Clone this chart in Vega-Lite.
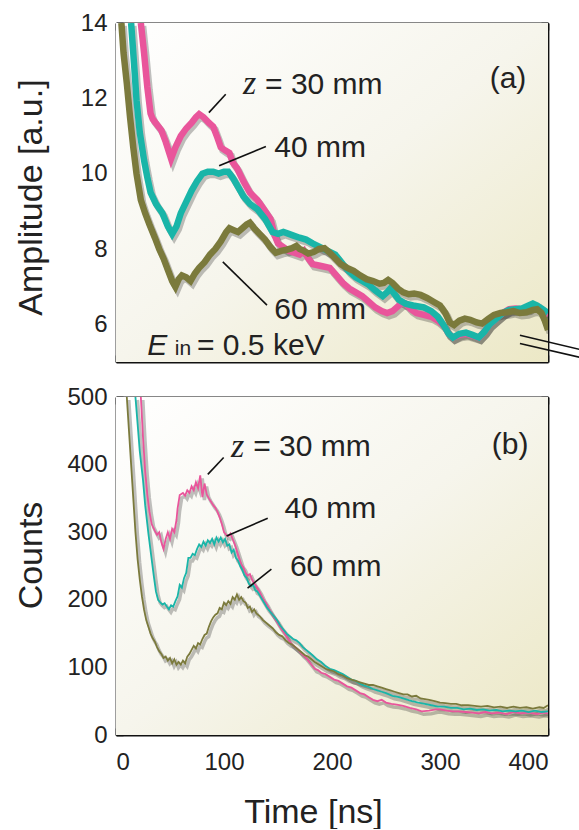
{
 "$schema": "https://vega.github.io/schema/vega-lite/v6.json",
 "background": "white",
 "padding": {"left": 14, "top": 11, "right": 0, "bottom": 0},
 "bounds": "flush",
 "spacing": 35,
 "config": {
  "font": "Liberation Sans",
  "view": {"stroke": null},
  "axis": {"domainColor": "#111", "tickColor": "#111", "labelColor": "#222", "titleColor": "#222", "grid": false, "domainWidth": 1.8, "tickWidth": 1.5, "tickSize": -7, "labelFontSize": 24, "titleFontSize": 34, "titleFontWeight": "normal", "labelFont": "Liberation Sans", "titleFont": "Liberation Sans", "zindex": 1}
 },
 "datasets": {
  "a": [
   {"t":23,"v":14,"z":"30"},{"t":26,"v":13.2,"z":"30"},{"t":29,"v":12.3,"z":"30"},{"t":32,"v":11.6,"z":"30"},{"t":34,"v":11.45,"z":"30"},{"t":38,"v":11.3,"z":"30"},{"t":42,"v":11.15,"z":"30"},{"t":46,"v":10.85,"z":"30"},{"t":51,"v":10.4,"z":"30"},{"t":55,"v":10.7,"z":"30"},{"t":60,"v":11.0,"z":"30"},{"t":65,"v":11.2,"z":"30"},{"t":70,"v":11.35,"z":"30"},{"t":74,"v":11.5,"z":"30"},{"t":77,"v":11.58,"z":"30"},{"t":81,"v":11.5,"z":"30"},{"t":86,"v":11.35,"z":"30"},{"t":90,"v":11.25,"z":"30"},{"t":94,"v":10.95,"z":"30"},{"t":97,"v":10.7,"z":"30"},{"t":101,"v":10.62,"z":"30"},{"t":105,"v":10.55,"z":"30"},{"t":108,"v":10.3,"z":"30"},{"t":112,"v":10.15,"z":"30"},{"t":118,"v":9.8,"z":"30"},{"t":124,"v":9.5,"z":"30"},{"t":131,"v":9.3,"z":"30"},{"t":137,"v":9.05,"z":"30"},{"t":143,"v":8.8,"z":"30"},{"t":147,"v":8.35,"z":"30"},{"t":150,"v":8.15,"z":"30"},{"t":155,"v":8.05,"z":"30"},{"t":160,"v":7.95,"z":"30"},{"t":165,"v":7.9,"z":"30"},{"t":170,"v":7.85,"z":"30"},{"t":174,"v":7.95,"z":"30"},{"t":178,"v":7.75,"z":"30"},{"t":182,"v":7.6,"z":"30"},{"t":190,"v":7.55,"z":"30"},{"t":198,"v":7.5,"z":"30"},{"t":204,"v":7.3,"z":"30"},{"t":210,"v":7.1,"z":"30"},{"t":216,"v":6.95,"z":"30"},{"t":222,"v":6.85,"z":"30"},{"t":228,"v":6.75,"z":"30"},{"t":234,"v":6.6,"z":"30"},{"t":240,"v":6.45,"z":"30"},{"t":246,"v":6.35,"z":"30"},{"t":251,"v":6.3,"z":"30"},{"t":256,"v":6.35,"z":"30"},{"t":260,"v":6.45,"z":"30"},{"t":264,"v":6.55,"z":"30"},{"t":268,"v":6.55,"z":"30"},{"t":273,"v":6.4,"z":"30"},{"t":278,"v":6.3,"z":"30"},{"t":285,"v":6.25,"z":"30"},{"t":292,"v":6.2,"z":"30"},{"t":298,"v":6.1,"z":"30"},{"t":304,"v":5.95,"z":"30"},{"t":308,"v":5.75,"z":"30"},{"t":312,"v":5.65,"z":"30"},{"t":318,"v":5.72,"z":"30"},{"t":324,"v":5.75,"z":"30"},{"t":330,"v":5.7,"z":"30"},{"t":336,"v":5.65,"z":"30"},{"t":341,"v":5.8,"z":"30"},{"t":346,"v":6.0,"z":"30"},{"t":352,"v":6.15,"z":"30"},{"t":358,"v":6.3,"z":"30"},{"t":364,"v":6.4,"z":"30"},{"t":370,"v":6.42,"z":"30"},{"t":376,"v":6.4,"z":"30"},{"t":382,"v":6.42,"z":"30"},{"t":386,"v":6.5,"z":"30"},{"t":392,"v":6.45,"z":"30"},{"t":396,"v":6.3,"z":"30"},{"t":400,"v":6.25,"z":"30"},
   {"t":14,"v":14,"z":"40"},{"t":17,"v":12.8,"z":"40"},{"t":19,"v":11.95,"z":"40"},{"t":22,"v":11.1,"z":"40"},{"t":26,"v":10.35,"z":"40"},{"t":29,"v":9.9,"z":"40"},{"t":32,"v":9.5,"z":"40"},{"t":37,"v":9.2,"z":"40"},{"t":43,"v":8.95,"z":"40"},{"t":48,"v":8.6,"z":"40"},{"t":52,"v":8.4,"z":"40"},{"t":56,"v":8.6,"z":"40"},{"t":60,"v":8.95,"z":"40"},{"t":65,"v":9.25,"z":"40"},{"t":70,"v":9.55,"z":"40"},{"t":75,"v":9.8,"z":"40"},{"t":80,"v":10.0,"z":"40"},{"t":85,"v":10.05,"z":"40"},{"t":90,"v":10.05,"z":"40"},{"t":95,"v":10.0,"z":"40"},{"t":100,"v":10.05,"z":"40"},{"t":104,"v":10.05,"z":"40"},{"t":108,"v":9.9,"z":"40"},{"t":111,"v":9.75,"z":"40"},{"t":115,"v":9.55,"z":"40"},{"t":118,"v":9.4,"z":"40"},{"t":124,"v":9.2,"z":"40"},{"t":131,"v":9.05,"z":"40"},{"t":138,"v":8.8,"z":"40"},{"t":145,"v":8.45,"z":"40"},{"t":150,"v":8.4,"z":"40"},{"t":155,"v":8.45,"z":"40"},{"t":160,"v":8.4,"z":"40"},{"t":165,"v":8.35,"z":"40"},{"t":170,"v":8.3,"z":"40"},{"t":176,"v":8.25,"z":"40"},{"t":182,"v":8.15,"z":"40"},{"t":189,"v":8.05,"z":"40"},{"t":196,"v":7.95,"z":"40"},{"t":203,"v":7.85,"z":"40"},{"t":210,"v":7.6,"z":"40"},{"t":216,"v":7.4,"z":"40"},{"t":222,"v":7.25,"z":"40"},{"t":228,"v":7.15,"z":"40"},{"t":234,"v":7.05,"z":"40"},{"t":240,"v":6.9,"z":"40"},{"t":247,"v":6.75,"z":"40"},{"t":251,"v":6.85,"z":"40"},{"t":254,"v":6.95,"z":"40"},{"t":258,"v":6.8,"z":"40"},{"t":262,"v":6.65,"z":"40"},{"t":268,"v":6.55,"z":"40"},{"t":275,"v":6.5,"z":"40"},{"t":285,"v":6.45,"z":"40"},{"t":292,"v":6.35,"z":"40"},{"t":298,"v":6.2,"z":"40"},{"t":304,"v":5.95,"z":"40"},{"t":308,"v":5.75,"z":"40"},{"t":312,"v":5.65,"z":"40"},{"t":318,"v":5.75,"z":"40"},{"t":324,"v":5.78,"z":"40"},{"t":330,"v":5.72,"z":"40"},{"t":336,"v":5.65,"z":"40"},{"t":341,"v":5.8,"z":"40"},{"t":346,"v":6.0,"z":"40"},{"t":352,"v":6.15,"z":"40"},{"t":358,"v":6.3,"z":"40"},{"t":364,"v":6.38,"z":"40"},{"t":370,"v":6.4,"z":"40"},{"t":376,"v":6.42,"z":"40"},{"t":382,"v":6.5,"z":"40"},{"t":386,"v":6.55,"z":"40"},{"t":390,"v":6.5,"z":"40"},{"t":395,"v":6.4,"z":"40"},{"t":400,"v":6.3,"z":"40"},
   {"t":5,"v":14,"z":"60"},{"t":7,"v":13.2,"z":"60"},{"t":10,"v":12.4,"z":"60"},{"t":13,"v":11.5,"z":"60"},{"t":16,"v":10.7,"z":"60"},{"t":19,"v":10.0,"z":"60"},{"t":23,"v":9.3,"z":"60"},{"t":27,"v":8.95,"z":"60"},{"t":31,"v":8.65,"z":"60"},{"t":36,"v":8.3,"z":"60"},{"t":40,"v":8.0,"z":"60"},{"t":44,"v":7.75,"z":"60"},{"t":48,"v":7.45,"z":"60"},{"t":52,"v":7.15,"z":"60"},{"t":55,"v":7.0,"z":"60"},{"t":58,"v":7.2,"z":"60"},{"t":61,"v":7.3,"z":"60"},{"t":65,"v":7.25,"z":"60"},{"t":69,"v":7.15,"z":"60"},{"t":73,"v":7.35,"z":"60"},{"t":77,"v":7.5,"z":"60"},{"t":82,"v":7.65,"z":"60"},{"t":87,"v":7.85,"z":"60"},{"t":92,"v":8.0,"z":"60"},{"t":97,"v":8.2,"z":"60"},{"t":102,"v":8.45,"z":"60"},{"t":105,"v":8.55,"z":"60"},{"t":109,"v":8.5,"z":"60"},{"t":113,"v":8.45,"z":"60"},{"t":117,"v":8.55,"z":"60"},{"t":121,"v":8.65,"z":"60"},{"t":124,"v":8.7,"z":"60"},{"t":128,"v":8.55,"z":"60"},{"t":133,"v":8.4,"z":"60"},{"t":138,"v":8.25,"z":"60"},{"t":143,"v":8.05,"z":"60"},{"t":148,"v":7.9,"z":"60"},{"t":153,"v":7.95,"z":"60"},{"t":158,"v":7.98,"z":"60"},{"t":163,"v":8.02,"z":"60"},{"t":167,"v":8.08,"z":"60"},{"t":170,"v":8.0,"z":"60"},{"t":174,"v":7.95,"z":"60"},{"t":178,"v":7.88,"z":"60"},{"t":183,"v":7.92,"z":"60"},{"t":188,"v":8.0,"z":"60"},{"t":193,"v":8.02,"z":"60"},{"t":198,"v":7.9,"z":"60"},{"t":203,"v":7.75,"z":"60"},{"t":208,"v":7.6,"z":"60"},{"t":214,"v":7.5,"z":"60"},{"t":220,"v":7.42,"z":"60"},{"t":226,"v":7.3,"z":"60"},{"t":232,"v":7.2,"z":"60"},{"t":238,"v":7.15,"z":"60"},{"t":244,"v":7.08,"z":"60"},{"t":248,"v":7.1,"z":"60"},{"t":252,"v":7.18,"z":"60"},{"t":256,"v":7.1,"z":"60"},{"t":261,"v":6.95,"z":"60"},{"t":266,"v":6.85,"z":"60"},{"t":271,"v":6.8,"z":"60"},{"t":276,"v":6.82,"z":"60"},{"t":282,"v":6.78,"z":"60"},{"t":288,"v":6.7,"z":"60"},{"t":294,"v":6.6,"z":"60"},{"t":300,"v":6.5,"z":"60"},{"t":305,"v":6.3,"z":"60"},{"t":309,"v":6.05,"z":"60"},{"t":313,"v":5.98,"z":"60"},{"t":318,"v":6.1,"z":"60"},{"t":323,"v":6.15,"z":"60"},{"t":328,"v":6.12,"z":"60"},{"t":334,"v":6.05,"z":"60"},{"t":339,"v":6.02,"z":"60"},{"t":345,"v":6.15,"z":"60"},{"t":350,"v":6.25,"z":"60"},{"t":356,"v":6.3,"z":"60"},{"t":362,"v":6.32,"z":"60"},{"t":368,"v":6.35,"z":"60"},{"t":374,"v":6.3,"z":"60"},{"t":380,"v":6.32,"z":"60"},{"t":386,"v":6.38,"z":"60"},{"t":390,"v":6.4,"z":"60"},{"t":394,"v":6.3,"z":"60"},{"t":397,"v":6.1,"z":"60"},{"t":400,"v":5.85,"z":"60"}
  ],
  "b": [
   {"t":23,"v":500,"z":"30"},{"t":25,"v":440,"z":"30"},{"t":27,"v":390,"z":"30"},{"t":29,"v":355,"z":"30"},{"t":31,"v":330,"z":"30"},{"t":33,"v":312,"z":"30"},{"t":36,"v":302,"z":"30"},{"t":38,"v":296,"z":"30"},{"t":40,"v":300,"z":"30"},{"t":42,"v":285,"z":"30"},{"t":44,"v":275,"z":"30"},{"t":46,"v":290,"z":"30"},{"t":48,"v":300,"z":"30"},{"t":50,"v":290,"z":"30"},{"t":52,"v":305,"z":"30"},{"t":54,"v":300,"z":"30"},{"t":56,"v":318,"z":"30"},{"t":57,"v":335,"z":"30"},{"t":59,"v":355,"z":"30"},{"t":62,"v":358,"z":"30"},{"t":64,"v":354,"z":"30"},{"t":66,"v":362,"z":"30"},{"t":68,"v":358,"z":"30"},{"t":70,"v":368,"z":"30"},{"t":72,"v":362,"z":"30"},{"t":74,"v":374,"z":"30"},{"t":76,"v":365,"z":"30"},{"t":78,"v":384,"z":"30"},{"t":80,"v":352,"z":"30"},{"t":82,"v":372,"z":"30"},{"t":84,"v":356,"z":"30"},{"t":86,"v":350,"z":"30"},{"t":88,"v":345,"z":"30"},{"t":90,"v":340,"z":"30"},{"t":92,"v":336,"z":"30"},{"t":94,"v":330,"z":"30"},{"t":96,"v":322,"z":"30"},{"t":98,"v":312,"z":"30"},{"t":100,"v":300,"z":"30"},{"t":102,"v":296,"z":"30"},{"t":104,"v":294,"z":"30"},{"t":106,"v":298,"z":"30"},{"t":108,"v":290,"z":"30"},{"t":110,"v":282,"z":"30"},{"t":112,"v":272,"z":"30"},{"t":114,"v":262,"z":"30"},{"t":116,"v":252,"z":"30"},{"t":118,"v":248,"z":"30"},{"t":120,"v":240,"z":"30"},{"t":122,"v":236,"z":"30"},{"t":124,"v":238,"z":"30"},{"t":126,"v":230,"z":"30"},{"t":128,"v":224,"z":"30"},{"t":130,"v":220,"z":"30"},{"t":133,"v":212,"z":"30"},{"t":136,"v":202,"z":"30"},{"t":139,"v":195,"z":"30"},{"t":142,"v":186,"z":"30"},{"t":145,"v":178,"z":"30"},{"t":148,"v":170,"z":"30"},{"t":151,"v":162,"z":"30"},{"t":154,"v":155,"z":"30"},{"t":157,"v":148,"z":"30"},{"t":160,"v":140,"z":"30"},{"t":163,"v":134,"z":"30"},{"t":166,"v":130,"z":"30"},{"t":169,"v":126,"z":"30"},{"t":172,"v":120,"z":"30"},{"t":175,"v":116,"z":"30"},{"t":178,"v":110,"z":"30"},{"t":181,"v":104,"z":"30"},{"t":184,"v":98,"z":"30"},{"t":187,"v":96,"z":"30"},{"t":190,"v":92,"z":"30"},{"t":194,"v":90,"z":"30"},{"t":198,"v":86,"z":"30"},{"t":202,"v":82,"z":"30"},{"t":206,"v":80,"z":"30"},{"t":210,"v":76,"z":"30"},{"t":214,"v":72,"z":"30"},{"t":218,"v":70,"z":"30"},{"t":222,"v":66,"z":"30"},{"t":226,"v":62,"z":"30"},{"t":230,"v":60,"z":"30"},{"t":234,"v":56,"z":"30"},{"t":238,"v":52,"z":"30"},{"t":242,"v":50,"z":"30"},{"t":246,"v":52,"z":"30"},{"t":250,"v":48,"z":"30"},{"t":255,"v":46,"z":"30"},{"t":260,"v":45,"z":"30"},{"t":266,"v":43,"z":"30"},{"t":272,"v":40,"z":"30"},{"t":278,"v":38,"z":"30"},{"t":283,"v":35,"z":"30"},{"t":290,"v":36,"z":"30"},{"t":296,"v":38,"z":"30"},{"t":300,"v":38,"z":"30"},{"t":306,"v":36,"z":"30"},{"t":312,"v":35,"z":"30"},{"t":317,"v":35,"z":"30"},{"t":324,"v":34,"z":"30"},{"t":330,"v":33,"z":"30"},{"t":336,"v":32,"z":"30"},{"t":342,"v":34,"z":"30"},{"t":348,"v":32,"z":"30"},{"t":355,"v":33,"z":"30"},{"t":362,"v":31,"z":"30"},{"t":368,"v":34,"z":"30"},{"t":375,"v":32,"z":"30"},{"t":382,"v":33,"z":"30"},{"t":390,"v":31,"z":"30"},{"t":395,"v":33,"z":"30"},{"t":400,"v":32,"z":"30"},
   {"t":18,"v":500,"z":"40"},{"t":20,"v":460,"z":"40"},{"t":22,"v":420,"z":"40"},{"t":25,"v":377,"z":"40"},{"t":27,"v":340,"z":"40"},{"t":30,"v":298,"z":"40"},{"t":33,"v":260,"z":"40"},{"t":35,"v":235,"z":"40"},{"t":37,"v":212,"z":"40"},{"t":39,"v":200,"z":"40"},{"t":41,"v":196,"z":"40"},{"t":43,"v":193,"z":"40"},{"t":45,"v":195,"z":"40"},{"t":47,"v":190,"z":"40"},{"t":49,"v":186,"z":"40"},{"t":51,"v":192,"z":"40"},{"t":53,"v":190,"z":"40"},{"t":55,"v":198,"z":"40"},{"t":57,"v":205,"z":"40"},{"t":59,"v":222,"z":"40"},{"t":61,"v":218,"z":"40"},{"t":63,"v":232,"z":"40"},{"t":65,"v":240,"z":"40"},{"t":67,"v":262,"z":"40"},{"t":69,"v":262,"z":"40"},{"t":71,"v":268,"z":"40"},{"t":73,"v":266,"z":"40"},{"t":75,"v":275,"z":"40"},{"t":77,"v":282,"z":"40"},{"t":79,"v":278,"z":"40"},{"t":81,"v":286,"z":"40"},{"t":83,"v":280,"z":"40"},{"t":85,"v":288,"z":"40"},{"t":87,"v":284,"z":"40"},{"t":89,"v":290,"z":"40"},{"t":91,"v":282,"z":"40"},{"t":93,"v":292,"z":"40"},{"t":95,"v":286,"z":"40"},{"t":97,"v":292,"z":"40"},{"t":99,"v":285,"z":"40"},{"t":101,"v":290,"z":"40"},{"t":103,"v":280,"z":"40"},{"t":105,"v":282,"z":"40"},{"t":107,"v":270,"z":"40"},{"t":109,"v":274,"z":"40"},{"t":111,"v":262,"z":"40"},{"t":113,"v":258,"z":"40"},{"t":115,"v":250,"z":"40"},{"t":117,"v":244,"z":"40"},{"t":119,"v":236,"z":"40"},{"t":121,"v":232,"z":"40"},{"t":123,"v":224,"z":"40"},{"t":125,"v":220,"z":"40"},{"t":127,"v":222,"z":"40"},{"t":129,"v":214,"z":"40"},{"t":131,"v":212,"z":"40"},{"t":134,"v":204,"z":"40"},{"t":137,"v":196,"z":"40"},{"t":140,"v":188,"z":"40"},{"t":143,"v":182,"z":"40"},{"t":146,"v":176,"z":"40"},{"t":149,"v":170,"z":"40"},{"t":152,"v":162,"z":"40"},{"t":155,"v":156,"z":"40"},{"t":158,"v":150,"z":"40"},{"t":161,"v":146,"z":"40"},{"t":164,"v":142,"z":"40"},{"t":167,"v":140,"z":"40"},{"t":170,"v":136,"z":"40"},{"t":173,"v":130,"z":"40"},{"t":176,"v":126,"z":"40"},{"t":179,"v":122,"z":"40"},{"t":182,"v":118,"z":"40"},{"t":186,"v":112,"z":"40"},{"t":190,"v":108,"z":"40"},{"t":194,"v":102,"z":"40"},{"t":198,"v":98,"z":"40"},{"t":202,"v":96,"z":"40"},{"t":206,"v":93,"z":"40"},{"t":210,"v":90,"z":"40"},{"t":214,"v":86,"z":"40"},{"t":218,"v":82,"z":"40"},{"t":222,"v":80,"z":"40"},{"t":226,"v":76,"z":"40"},{"t":230,"v":73,"z":"40"},{"t":234,"v":71,"z":"40"},{"t":238,"v":68,"z":"40"},{"t":242,"v":66,"z":"40"},{"t":246,"v":64,"z":"40"},{"t":250,"v":62,"z":"40"},{"t":256,"v":58,"z":"40"},{"t":262,"v":56,"z":"40"},{"t":268,"v":53,"z":"40"},{"t":274,"v":50,"z":"40"},{"t":280,"v":48,"z":"40"},{"t":286,"v":46,"z":"40"},{"t":292,"v":44,"z":"40"},{"t":298,"v":42,"z":"40"},{"t":304,"v":42,"z":"40"},{"t":310,"v":40,"z":"40"},{"t":316,"v":40,"z":"40"},{"t":322,"v":38,"z":"40"},{"t":328,"v":39,"z":"40"},{"t":334,"v":37,"z":"40"},{"t":340,"v":38,"z":"40"},{"t":346,"v":36,"z":"40"},{"t":352,"v":37,"z":"40"},{"t":358,"v":35,"z":"40"},{"t":364,"v":36,"z":"40"},{"t":370,"v":35,"z":"40"},{"t":376,"v":36,"z":"40"},{"t":382,"v":34,"z":"40"},{"t":388,"v":36,"z":"40"},{"t":394,"v":34,"z":"40"},{"t":400,"v":35,"z":"40"},
   {"t":10,"v":500,"z":"60"},{"t":12,"v":450,"z":"60"},{"t":14,"v":400,"z":"60"},{"t":16,"v":350,"z":"60"},{"t":18,"v":300,"z":"60"},{"t":20,"v":260,"z":"60"},{"t":22,"v":230,"z":"60"},{"t":24,"v":205,"z":"60"},{"t":26,"v":185,"z":"60"},{"t":28,"v":170,"z":"60"},{"t":30,"v":160,"z":"60"},{"t":32,"v":150,"z":"60"},{"t":34,"v":143,"z":"60"},{"t":36,"v":138,"z":"60"},{"t":38,"v":130,"z":"60"},{"t":40,"v":124,"z":"60"},{"t":42,"v":120,"z":"60"},{"t":44,"v":114,"z":"60"},{"t":46,"v":116,"z":"60"},{"t":48,"v":110,"z":"60"},{"t":50,"v":114,"z":"60"},{"t":52,"v":106,"z":"60"},{"t":54,"v":112,"z":"60"},{"t":56,"v":104,"z":"60"},{"t":58,"v":108,"z":"60"},{"t":60,"v":104,"z":"60"},{"t":62,"v":110,"z":"60"},{"t":64,"v":106,"z":"60"},{"t":66,"v":116,"z":"60"},{"t":68,"v":120,"z":"60"},{"t":70,"v":126,"z":"60"},{"t":72,"v":132,"z":"60"},{"t":74,"v":128,"z":"60"},{"t":76,"v":136,"z":"60"},{"t":78,"v":134,"z":"60"},{"t":80,"v":142,"z":"60"},{"t":82,"v":148,"z":"60"},{"t":84,"v":150,"z":"60"},{"t":86,"v":160,"z":"60"},{"t":88,"v":168,"z":"60"},{"t":90,"v":174,"z":"60"},{"t":92,"v":178,"z":"60"},{"t":94,"v":180,"z":"60"},{"t":96,"v":188,"z":"60"},{"t":98,"v":186,"z":"60"},{"t":100,"v":196,"z":"60"},{"t":102,"v":192,"z":"60"},{"t":104,"v":198,"z":"60"},{"t":106,"v":194,"z":"60"},{"t":108,"v":204,"z":"60"},{"t":110,"v":200,"z":"60"},{"t":112,"v":208,"z":"60"},{"t":114,"v":200,"z":"60"},{"t":116,"v":204,"z":"60"},{"t":118,"v":198,"z":"60"},{"t":120,"v":196,"z":"60"},{"t":122,"v":188,"z":"60"},{"t":124,"v":190,"z":"60"},{"t":126,"v":182,"z":"60"},{"t":128,"v":186,"z":"60"},{"t":130,"v":180,"z":"60"},{"t":133,"v":176,"z":"60"},{"t":136,"v":170,"z":"60"},{"t":139,"v":166,"z":"60"},{"t":142,"v":162,"z":"60"},{"t":145,"v":158,"z":"60"},{"t":148,"v":152,"z":"60"},{"t":151,"v":148,"z":"60"},{"t":154,"v":146,"z":"60"},{"t":157,"v":140,"z":"60"},{"t":160,"v":136,"z":"60"},{"t":163,"v":134,"z":"60"},{"t":166,"v":130,"z":"60"},{"t":169,"v":126,"z":"60"},{"t":172,"v":122,"z":"60"},{"t":175,"v":118,"z":"60"},{"t":178,"v":116,"z":"60"},{"t":181,"v":112,"z":"60"},{"t":184,"v":108,"z":"60"},{"t":187,"v":105,"z":"60"},{"t":190,"v":102,"z":"60"},{"t":194,"v":98,"z":"60"},{"t":198,"v":96,"z":"60"},{"t":202,"v":94,"z":"60"},{"t":206,"v":90,"z":"60"},{"t":210,"v":88,"z":"60"},{"t":214,"v":84,"z":"60"},{"t":218,"v":82,"z":"60"},{"t":222,"v":80,"z":"60"},{"t":226,"v":78,"z":"60"},{"t":230,"v":76,"z":"60"},{"t":234,"v":74,"z":"60"},{"t":238,"v":74,"z":"60"},{"t":242,"v":72,"z":"60"},{"t":246,"v":70,"z":"60"},{"t":250,"v":68,"z":"60"},{"t":254,"v":66,"z":"60"},{"t":258,"v":64,"z":"60"},{"t":262,"v":62,"z":"60"},{"t":266,"v":60,"z":"60"},{"t":270,"v":60,"z":"60"},{"t":274,"v":57,"z":"60"},{"t":278,"v":58,"z":"60"},{"t":282,"v":54,"z":"60"},{"t":286,"v":53,"z":"60"},{"t":290,"v":52,"z":"60"},{"t":295,"v":50,"z":"60"},{"t":300,"v":48,"z":"60"},{"t":305,"v":47,"z":"60"},{"t":310,"v":46,"z":"60"},{"t":315,"v":46,"z":"60"},{"t":320,"v":44,"z":"60"},{"t":326,"v":44,"z":"60"},{"t":332,"v":43,"z":"60"},{"t":338,"v":42,"z":"60"},{"t":344,"v":43,"z":"60"},{"t":350,"v":41,"z":"60"},{"t":356,"v":42,"z":"60"},{"t":362,"v":40,"z":"60"},{"t":368,"v":42,"z":"60"},{"t":374,"v":40,"z":"60"},{"t":380,"v":41,"z":"60"},{"t":386,"v":39,"z":"60"},{"t":392,"v":41,"z":"60"},{"t":396,"v":40,"z":"60"},{"t":400,"v":44,"z":"60"}
  ]
 },
 "vconcat": [
  {
   "width": 432, "height": 339,
   "layer": [
    {
     "data": {"values": [{"x0": 0, "x1": 400, "y0": 5, "y1": 14}]},
     "mark": {"type": "rect", "fill": {"gradient": "linear", "x1": 0, "y1": 0, "x2": 1, "y2": 1, "stops": [{"offset": 0, "color": "#ffffff"}, {"offset": 0.5, "color": "#f6f5ec"}, {"offset": 1, "color": "#ece8c6"}]}},
     "encoding": {
      "x": {"field": "x0", "type": "quantitative", "scale": {"domain": [0, 400], "nice": false, "zero": false}, "axis": {"orient": "top", "values": [0,50,100,150,200,250,300,350,400], "labels": false, "title": null}},
      "x2": {"field": "x1"},
      "y": {"field": "y0", "type": "quantitative", "scale": {"domain": [5, 14], "nice": false, "zero": false}, "axis": {"orient": "right", "values": [6,8,10,12,14], "labels": false, "title": null}},
      "y2": {"field": "y1"}
     }
    },
    {
     "data": {"name": "a"},
     "mark": {"type": "line", "stroke": "#222", "opacity": 0.28, "strokeWidth": 7, "xOffset": 2, "yOffset": 3, "clip": true},
     "encoding": {
      "x": {"field": "t", "type": "quantitative", "axis": null},
      "y": {"field": "v", "type": "quantitative", "axis": null},
      "detail": {"field": "z"}
     }
    },
    {
     "data": {"name": "a"},
     "mark": {"type": "line", "strokeWidth": 6.5, "clip": true},
     "encoding": {
      "x": {"field": "t", "type": "quantitative", "axis": {"orient": "bottom", "values": [0,50,100,150,200,250,300,350,400], "labels": false, "title": null}},
      "y": {"field": "v", "type": "quantitative", "axis": {"orient": "left", "values": [6,8,10,12,14], "labelPadding": 16, "title": "Amplitude [a.u.]", "titleX": -85, "titleY": 174, "titleAngle": -90, "titleBaseline": "middle", "titleAlign": "center"}},
      "color": {"field": "z", "type": "nominal", "scale": {"domain": ["30", "40", "60"], "range": ["#e9559b", "#19b5a8", "#7b7a3c"]}, "legend": null}
     }
    },
    {
     "data": {"values": [{"x": 86, "y": 11.62, "x2": 101.6, "y2": 12.11}, {"x": 95.5, "y": 10.21, "x2": 138.8, "y2": 10.72}, {"x": 98.9, "y": 7.66, "x2": 139.8, "y2": 6.51}, {"x": 374, "y": 5.71, "x2": 430, "y2": 5.33}, {"x": 374, "y": 5.49, "x2": 430, "y2": 5.12}]},
     "mark": {"type": "rule", "color": "#111", "strokeWidth": 1.6},
     "encoding": {
      "x": {"field": "x", "type": "quantitative", "axis": null},
      "y": {"field": "y", "type": "quantitative", "axis": null},
      "x2": {"field": "x2"},
      "y2": {"field": "y2"}
     }
    },
    {
     "data": {"values": [{"x": 138, "y": 12.11, "s": "= 30 mm"}, {"x": 146.6, "y": 10.45, "s": "40 mm"}, {"x": 146.6, "y": 6.15, "s": "60 mm"}, {"x": 75, "y": 5.18, "s": "= 0.5 keV"}, {"x": 346, "y": 12.27, "s": "(a)"}]},
     "mark": {"type": "text", "align": "left", "baseline": "alphabetic", "fontSize": 30, "color": "#222"},
     "encoding": {
      "x": {"field": "x", "type": "quantitative", "axis": null},
      "y": {"field": "y", "type": "quantitative", "axis": null},
      "text": {"field": "s"}
     }
    },
    {
     "data": {"values": [{"x": 117.6, "y": 12.11, "s": "z"}]},
     "mark": {"type": "text", "align": "left", "baseline": "alphabetic", "fontSize": 34, "font": "Liberation Serif", "fontStyle": "italic", "color": "#222"},
     "encoding": {
      "x": {"field": "x", "type": "quantitative", "axis": null},
      "y": {"field": "y", "type": "quantitative", "axis": null},
      "text": {"field": "s"}
     }
    },
    {
     "data": {"values": [{"x": 29, "y": 5.18, "s": "E"}]},
     "mark": {"type": "text", "align": "left", "baseline": "alphabetic", "fontSize": 30, "fontStyle": "italic", "color": "#222"},
     "encoding": {
      "x": {"field": "x", "type": "quantitative", "axis": null},
      "y": {"field": "y", "type": "quantitative", "axis": null},
      "text": {"field": "s"}
     }
    },
    {
     "data": {"values": [{"x": 54.5, "y": 5.18, "s": "in"}]},
     "mark": {"type": "text", "align": "left", "baseline": "alphabetic", "fontSize": 21, "color": "#222"},
     "encoding": {
      "x": {"field": "x", "type": "quantitative", "axis": null},
      "y": {"field": "y", "type": "quantitative", "axis": null},
      "text": {"field": "s"}
     }
    }
   ],
   "resolve": {"axis": {"x": "independent", "y": "independent"}}
  },
  {
   "width": 432, "height": 338,
   "layer": [
    {
     "data": {"values": [{"x0": 0, "x1": 400, "y0": 0, "y1": 500}]},
     "mark": {"type": "rect", "fill": {"gradient": "linear", "x1": 0, "y1": 0, "x2": 1, "y2": 1, "stops": [{"offset": 0, "color": "#ffffff"}, {"offset": 0.5, "color": "#f6f5ec"}, {"offset": 1, "color": "#ece8c6"}]}},
     "encoding": {
      "x": {"field": "x0", "type": "quantitative", "scale": {"domain": [0, 400], "nice": false, "zero": false}, "axis": {"orient": "top", "values": [0,50,100,150,200,250,300,350,400], "labels": false, "title": null}},
      "x2": {"field": "x1"},
      "y": {"field": "y0", "type": "quantitative", "scale": {"domain": [0, 500], "nice": false, "zero": false}, "axis": {"orient": "right", "values": [0,100,200,300,400,500], "labels": false, "title": null}},
      "y2": {"field": "y1"}
     }
    },
    {
     "data": {"name": "b"},
     "mark": {"type": "line", "stroke": "#222", "opacity": 0.28, "strokeWidth": 3.5, "xOffset": 2, "yOffset": 3, "clip": true},
     "encoding": {
      "x": {"field": "t", "type": "quantitative", "axis": null},
      "y": {"field": "v", "type": "quantitative", "axis": null},
      "detail": {"field": "z"}
     }
    },
    {
     "data": {"name": "b"},
     "mark": {"type": "line", "strokeWidth": 1.8, "clip": true},
     "encoding": {
      "x": {"field": "t", "type": "quantitative", "axis": {"orient": "bottom", "values": [0,50,100,150,200,250,300,350,400], "labelExpr": "datum.value % 100 === 0 ? datum.label : ''", "labelPadding": 22, "title": "Time [ns]", "titleX": 197, "titleY": 87, "titleBaseline": "alphabetic", "titleAlign": "center"}},
      "y": {"field": "v", "type": "quantitative", "axis": {"orient": "left", "values": [0,100,200,300,400,500], "labelPadding": 16, "title": "Counts", "titleX": -85, "titleY": 158, "titleAngle": -90, "titleBaseline": "middle", "titleAlign": "center"}},
      "color": {"field": "z", "type": "nominal", "scale": {"domain": ["30", "40", "60"], "range": ["#e9559b", "#19b5a8", "#7b7a3c"]}, "legend": null}
     }
    },
    {
     "data": {"values": [{"x": 85, "y": 385.5, "x2": 99.7, "y2": 410.5}, {"x": 102.4, "y": 294.5, "x2": 140.5, "y2": 320.5}, {"x": 121.8, "y": 217.3, "x2": 143.9, "y2": 245.3}]},
     "mark": {"type": "rule", "color": "#111", "strokeWidth": 1.6},
     "encoding": {
      "x": {"field": "x", "type": "quantitative", "axis": null},
      "y": {"field": "y", "type": "quantitative", "axis": null},
      "x2": {"field": "x2"},
      "y2": {"field": "y2"}
     }
    },
    {
     "data": {"values": [{"x": 127, "y": 412, "s": "= 30 mm"}, {"x": 156, "y": 320.5, "s": "40 mm"}, {"x": 161, "y": 235.5, "s": "60 mm"}, {"x": 348, "y": 416, "s": "(b)"}]},
     "mark": {"type": "text", "align": "left", "baseline": "alphabetic", "fontSize": 30, "color": "#222"},
     "encoding": {
      "x": {"field": "x", "type": "quantitative", "axis": null},
      "y": {"field": "y", "type": "quantitative", "axis": null},
      "text": {"field": "s"}
     }
    },
    {
     "data": {"values": [{"x": 106.5, "y": 411.5, "s": "z"}]},
     "mark": {"type": "text", "align": "left", "baseline": "alphabetic", "fontSize": 34, "font": "Liberation Serif", "fontStyle": "italic", "color": "#222"},
     "encoding": {
      "x": {"field": "x", "type": "quantitative", "axis": null},
      "y": {"field": "y", "type": "quantitative", "axis": null},
      "text": {"field": "s"}
     }
    }
   ],
   "resolve": {"axis": {"x": "independent", "y": "independent"}}
  }
 ]
}
